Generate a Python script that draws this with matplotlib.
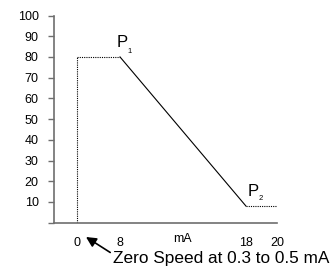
import numpy as np
import matplotlib
matplotlib.use("Agg")
import matplotlib.pyplot as plt

plt.rcParams['font.family'] = ['Liberation Sans', 'DejaVu Sans']

# curve data: speed (%) vs input current (mA)
current_ma = [0, 0, 8, 18, 20]
speed_pct = [0, 80, 80, 8, 8]
seg_styles = ['dotted', 'dotted', 'solid', 'dotted']

x_ticks = [0, 8, 18, 20]
y_ticks = list(range(0, 101, 10))
y_labels = [''] + [str(v) for v in y_ticks[1:]]

# the x axis is not drawn to a linear scale
x_break = [-10, 0, 8, 18, 20, 30]
x_warp = [-53.75, 0, 43, 169, 200, 355]


def fwd(v):
    return np.interp(v, x_break, x_warp)


def inv(v):
    return np.interp(v, x_warp, x_break)


fig = plt.figure(figsize=(3.34, 2.67), dpi=100)
ax = fig.add_axes([0.1617, 0.1659, 0.6677, 0.776])
ax.set_xscale('function', functions=(fwd, inv))
ax.set_xlim(-4.28, 20)
ax.set_ylim(0, 100)

for i, ls in enumerate(seg_styles):
    ax.plot(current_ma[i:i + 2], speed_pct[i:i + 2], color='black', lw=0.8,
            linestyle=(0, (1, 1)) if ls == 'dotted' else '-')

# axes style
for side in ['top', 'right']:
    ax.spines[side].set_visible(False)
for side in ['left', 'bottom']:
    ax.spines[side].set_color('#6e6e6e')
    ax.spines[side].set_linewidth(1.2)

ax.set_yticks(y_ticks)
ax.set_yticklabels(y_labels)
ax.tick_params(axis='y', length=4, width=1, color='#6e6e6e', pad=7, labelsize=9)
ax.set_xticks(x_ticks)
ax.set_xticklabels([str(v) for v in x_ticks])
ax.tick_params(axis='x', length=0, pad=10, labelsize=9)
ax.xaxis.set_minor_locator(plt.NullLocator())

ax.annotate('mA', xy=(0.574, 0), xycoords='axes fraction', xytext=(0, -16),
            textcoords='offset pixels', ha='center', va='center', fontsize=9)

# point labels
ax.annotate('P', xy=(8, 80), xytext=(-3, 10), textcoords='offset pixels',
            ha='left', va='baseline', fontsize=12)
ax.annotate('1', xy=(8, 80), xytext=(7, 4), textcoords='offset pixels',
            ha='left', va='baseline', fontsize=5.5)
ax.annotate('P', xy=(18, 8), xytext=(2, 10), textcoords='offset pixels',
            ha='left', va='baseline', fontsize=12)
ax.annotate('2', xy=(18, 8), xytext=(13, 6), textcoords='offset pixels',
            ha='left', va='baseline', fontsize=5.5)

ax.annotate('Zero Speed at 0.3 to 0.5 mA', xy=(1.67, -6.9), xycoords='data',
            xytext=(113, 9), textcoords='figure pixels', ha='left', va='center',
            fontsize=12.4, annotation_clip=False,
            arrowprops=dict(arrowstyle='-|>', color='black', lw=1.2,
                            mutation_scale=15, shrinkA=0, shrinkB=0,
                            relpos=(0, 0.75)))

fig.savefig('out.png', dpi=100)
